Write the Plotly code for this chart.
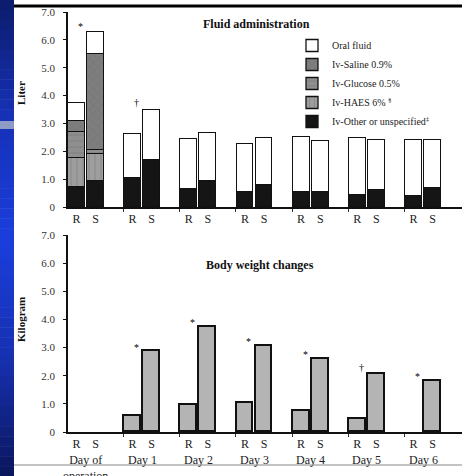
import plotly.graph_objects as go

# ---------------- data ----------------
days = ["Day of<br>operation", "Day 1", "Day 2", "Day 3", "Day 4", "Day 5", "Day 6"]
groups = ["R", "S"]

# Fluid administration (liter), stacked components
other_R   = [0.73, 1.03, 0.65, 0.55, 0.55, 0.43, 0.40]
other_S   = [0.95, 1.69, 0.95, 0.79, 0.55, 0.61, 0.67]
haes_R    = [1.02, 0, 0, 0, 0, 0, 0]
haes_S    = [0.95, 0, 0, 0, 0, 0, 0]
glucose_R = [0.96, 0, 0, 0, 0, 0, 0]
glucose_S = [0.15, 0, 0, 0, 0, 0, 0]
saline_R  = [0.36, 0, 0, 0, 0, 0, 0]
saline_S  = [3.45, 0, 0, 0, 0, 0, 0]
oral_R    = [0.68, 1.60, 1.80, 1.70, 1.96, 2.04, 2.01]
oral_S    = [0.77, 1.80, 1.72, 1.68, 1.82, 1.80, 1.74]

# Body weight changes (kg)
weight_R = [None, 0.57, 0.96, 1.02, 0.76, 0.45, None]
weight_S = [None, 2.87, 3.74, 3.05, 2.60, 2.07, 1.83]

sig_fluid  = ["*", "†", "", "", "", "", ""]
sig_weight = ["", "*", "*", "*", "*", "†", "*"]

y_ticks = [0, 1, 2, 3, 4, 5, 6, 7]
y_ticktext = ["0", "1.0", "2.0", "3.0", "4.0", "5.0", "6.0", "7.0"]

# ---------------- figure ----------------
W, H = 462, 476
FONT = "Liberation Serif"
off = 0.17
bw = 0.30
n = len(days)
xR = [i - off for i in range(n)]
xS = [i + off for i in range(n)]
xs = xR + xS

fig = go.Figure()

comps = [
    ("Iv-Other or unspecified<sup>‡</sup>", other_R, other_S, "#151515", None),
    ("Iv-HAES 6% <sup>§</sup>", haes_R, haes_S, "#9e9e9e", "|"),
    ("Iv-Glucose 0.5%", glucose_R, glucose_S, "#8f8f8f", "-"),
    ("Iv-Saline 0.9%", saline_R, saline_S, "#7e7e7e", "x"),
    ("Oral fluid", oral_R, oral_S, "#ffffff", None),
]
for name, r, s, col, pat in comps:
    marker = dict(color=col, line=dict(color="#111", width=1.3))
    if pat:
        marker["pattern"] = dict(shape=pat, fgcolor="#555", fgopacity=0.35, size=6, solidity=0.15)
    fig.add_trace(go.Bar(x=xs, y=r + s, width=bw, name=name, marker=marker,
                         xaxis="x", yaxis="y"))

fig.add_trace(go.Bar(x=xs, y=weight_R + weight_S, width=bw, showlegend=False,
                     marker=dict(color="#b4b4b4", line=dict(color="#111", width=1.8)),
                     xaxis="x2", yaxis="y2"))

# significance marks
ann = []
for i in range(n):
    tot_R = other_R[i] + haes_R[i] + glucose_R[i] + saline_R[i] + oral_R[i]
    tot_S = other_S[i] + haes_S[i] + glucose_S[i] + saline_S[i] + oral_S[i]
    if sig_fluid[i]:
        ann.append(dict(x=i - 0.1, y=max(tot_R, tot_S) + (0.2 if sig_fluid[i] == "*" else 0.25),
                        xref="x", yref="y", text=sig_fluid[i], showarrow=False,
                        yanchor="middle", xanchor="center",
                        font=dict(family=FONT, size=10, color="#000")))
    if sig_weight[i]:
        top = max(v for v in [weight_R[i], weight_S[i]] if v is not None)
        ann.append(dict(x=i - 0.1, y=top + (0.15 if sig_weight[i] == "*" else 0.22),
                        xref="x2", yref="y2", text=sig_weight[i], showarrow=False,
                        yanchor="middle", xanchor="center",
                        font=dict(family=FONT, size=10, color="#000")))

# day labels
for i, d in enumerate(days):
    ann.append(dict(x=i, y=1 - 451 / H, xref="x2", yref="paper", yanchor="top", xanchor="center",
                    text=d, showarrow=False,
                    font=dict(family=FONT, size=12, color="#222")))

# titles
ann.append(dict(x=256 / W, y=1 - 24 / H, xref="paper", yref="paper", text="<b>Fluid administration</b>",
                xanchor="center", yanchor="middle",
                showarrow=False, font=dict(family=FONT, size=12, color="#111")))
ann.append(dict(x=260 / W, y=1 - 265 / H, xref="paper", yref="paper", text="<b>Body weight changes</b>",
                xanchor="center", yanchor="middle",
                showarrow=False, font=dict(family=FONT, size=12, color="#111")))
ann.append(dict(x=21 / W, y=1 - 93 / H, xref="paper", yref="paper", text="<b>Liter</b>", textangle=-90,
                xanchor="center", yanchor="middle",
                showarrow=False, font=dict(family=FONT, size=11, color="#111")))
ann.append(dict(x=21 / W, y=1 - 320 / H, xref="paper", yref="paper", text="<b>Kilogram</b>", textangle=-90,
                xanchor="center", yanchor="middle",
                showarrow=False, font=dict(family=FONT, size=11, color="#111")))

# decoration: blue slide strip with gradient
shapes = []
stops = [(0, (12, 28, 106)), (120, (22, 50, 185)), (240, (27, 62, 220)), (360, (22, 48, 175)), (476, (10, 22, 92))]
nstrip = 48
for k in range(nstrip):
    y0 = k * H / nstrip
    y1 = (k + 1) * H / nstrip + 0.5
    ym = (y0 + y1) / 2
    for j in range(len(stops) - 1):
        if stops[j][0] <= ym <= stops[j + 1][0]:
            t = (ym - stops[j][0]) / (stops[j + 1][0] - stops[j][0])
            c = [round(stops[j][1][m] + t * (stops[j + 1][1][m] - stops[j][1][m])) for m in range(3)]
            break
    shapes.append(dict(type="rect", xref="paper", yref="paper", x0=0, x1=14 / W,
                       y0=1 - y1 / H, y1=1 - y0 / H, fillcolor=f"rgb({c[0]},{c[1]},{c[2]})",
                       line=dict(width=0), layer="below"))
shapes.append(dict(type="rect", xref="paper", yref="paper", x0=0, x1=14 / W,
                   y0=1 - 129 / H, y1=1 - 121 / H, fillcolor="#8d9bc6", line=dict(width=0)))
shapes.append(dict(type="line", xref="paper", yref="paper", x0=14 / W, x1=1,
                   y0=1 - 6 / H, y1=1 - 6 / H, line=dict(color="#000", width=3)))
shapes.append(dict(type="line", xref="paper", yref="paper", x0=14 / W, x1=1,
                   y0=1 - 465 / H, y1=1 - 465 / H, line=dict(color="#8a8a8a", width=1.2)))

xrange = [-0.32, 6.694]
tickvals = []
ticktext = []
for i in range(n):
    tickvals += [xR[i], xS[i]]
    ticktext += groups

xaxis_common = dict(range=xrange, domain=[68 / W, 1], showline=True, linecolor="#111", linewidth=1.5,
                    tickvals=tickvals, ticktext=ticktext, ticks="", showgrid=False, zeroline=False,
                    tickfont=dict(family=FONT, size=12, color="#222"), automargin=False,
                    minor=dict(tickvals=[i - 0.33 for i in range(n)], ticks="outside", ticklen=3,
                               tickcolor="#333", tickwidth=1))
yaxis_common = dict(range=[0, 7], tickvals=y_ticks, ticktext=y_ticktext, showline=True, linecolor="#111",
                    linewidth=1.5, ticks="outside", ticklen=3, tickcolor="#111", showgrid=False,
                    zeroline=False, tickfont=dict(family=FONT, size=11, color="#333"), automargin=False,
                    ticklabelstandoff=6)

fig.update_layout(
    width=W, height=H,
    margin=dict(l=0, r=0, t=0, b=0),
    paper_bgcolor="white", plot_bgcolor="white",
    barmode="stack", bargap=0,
    xaxis=dict(xaxis_common, anchor="y"),
    yaxis=dict(yaxis_common, domain=[1 - 207 / H, 1 - 12 / H], anchor="x"),
    xaxis2=dict(xaxis_common, anchor="y2"),
    yaxis2=dict(yaxis_common, domain=[1 - 432 / H, 1 - 235 / H], anchor="x2"),
    legend=dict(x=292 / W, y=1 - 31 / H, xanchor="left", yanchor="top", traceorder="reversed",
                bgcolor="rgba(0,0,0,0)", font=dict(family=FONT, size=10, color="#222"),
                itemwidth=30),
    annotations=ann,
    shapes=shapes,
)

fig.write_html("out.html", config={"displayModeBar": False},
               post_script="document.body.style.margin='0';document.body.style.overflow='hidden';")
